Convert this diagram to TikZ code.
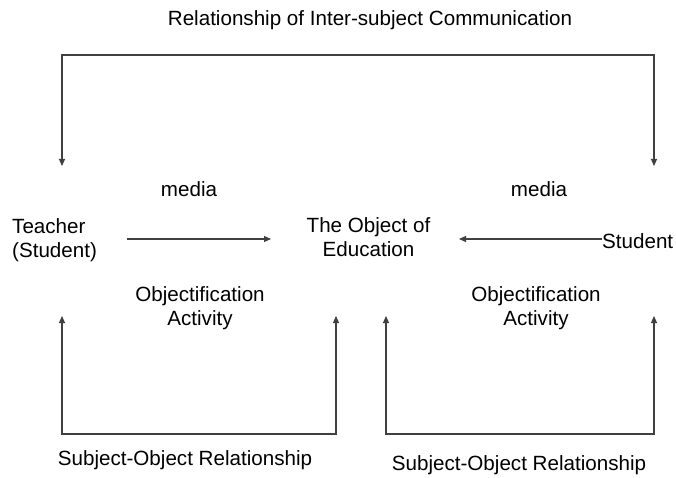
\documentclass[tikz,border=0pt]{standalone}
\usepackage{fontspec}
\setmainfont{Liberation Sans}
\usetikzlibrary{arrows.meta}
\begin{document}
\begin{tikzpicture}[x=1pt,y=-1pt,
  lbl/.style={font=\fontsize{20.6}{23.5}\selectfont,align=center,inner sep=0pt},
  conn/.style={draw=black!75,line width=1.1pt,-{Triangle[length=7pt,width=6pt]}}]
\useasboundingbox[fill=white] (0,0) rectangle (676,478);
\node[lbl] (title) at (370,20) {Relationship of Inter-subject Communication};
\node[lbl] (media1) at (189,189) {media};
\node[lbl] (media2) at (539,189) {media};
\node[lbl,align=left,anchor=west] (teacher) at (12,240) {Teacher\\(Student)};
\node[lbl] (obj) at (368.5,237) {The Object of\\Education};
\node[lbl,anchor=west] (student) at (602,241) {Student};
\node[lbl] (oa1) at (200,308) {Objectification\\Activity};
\node[lbl] (oa2) at (536,308) {Objectification\\Activity};
\node[lbl] (sor1) at (185,460) {Subject-Object Relationship};
\node[lbl] (sor2) at (519,465) {Subject-Object Relationship};
\coordinate (tl) at (62,166);
\coordinate (tr) at (654,166);
\coordinate (ta) at (127,239);
\coordinate (tb) at (271,239);
\coordinate (sa) at (459,239);
\coordinate (sb) at (student.west |- sa);
\coordinate (l1) at (62,316);
\coordinate (l2) at (336,316);
\coordinate (r1) at (386,316);
\coordinate (r2) at (654,316);
\draw[conn] (654,55) -- (62,55) -- (tl);
\draw[conn] (62,55) -- (654,55) -- (tr);
\draw[conn] (ta) -- (tb);
\draw[conn] (sb) -- (sa);
\draw[conn] (336,434) -- (62,434) -- (l1);
\draw[conn] (62,434) -- (336,434) -- (l2);
\draw[conn] (654,434) -- (386,434) -- (r1);
\draw[conn] (386,434) -- (654,434) -- (r2);
\end{tikzpicture}
\end{document}
